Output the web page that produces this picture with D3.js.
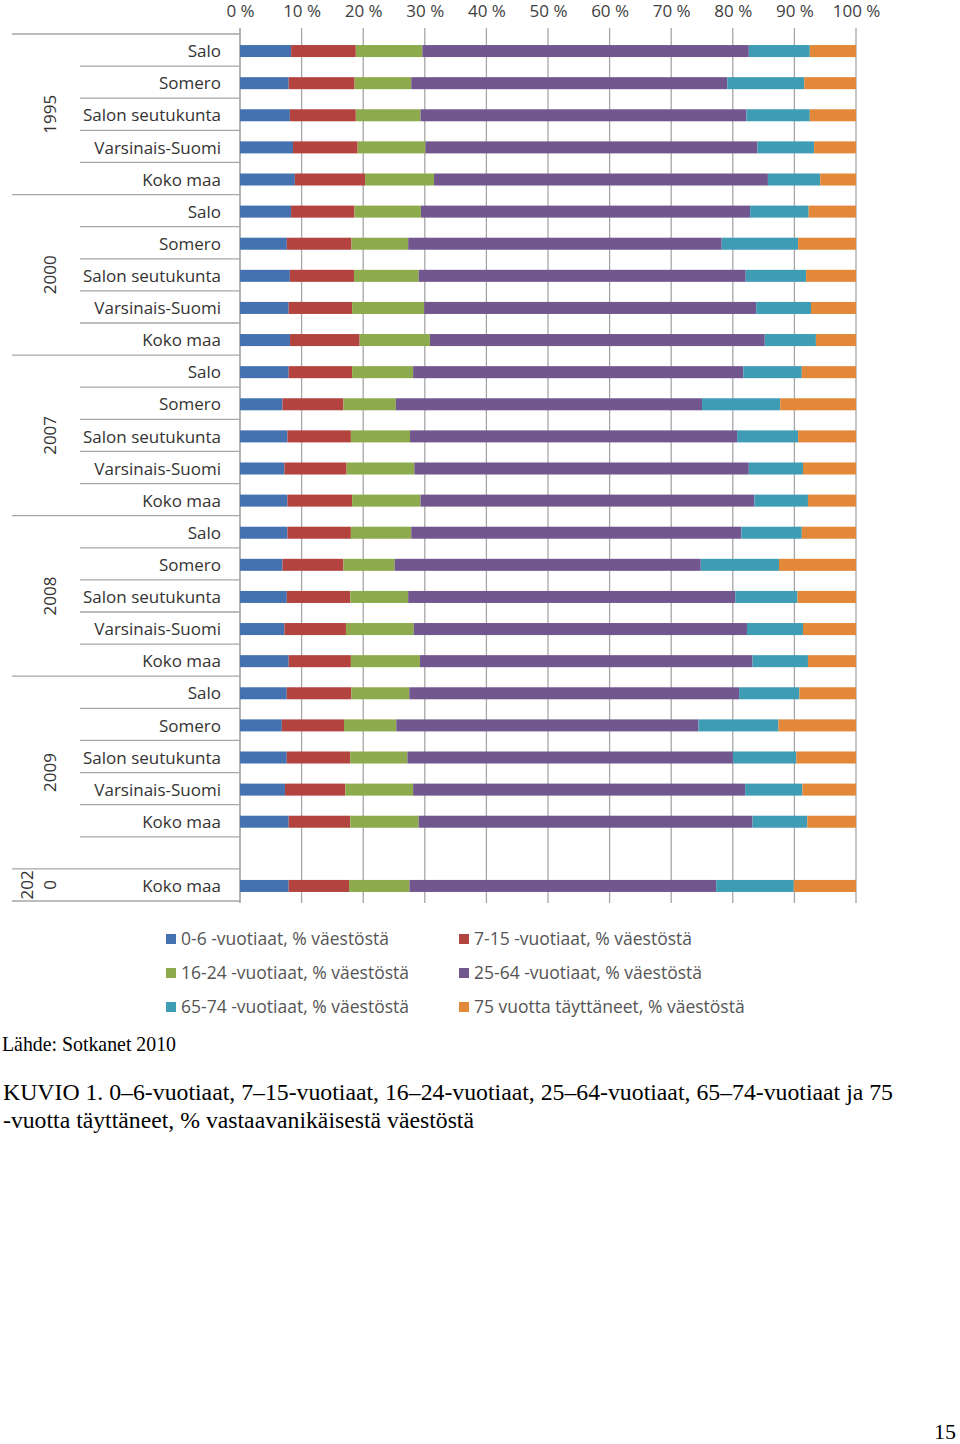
<!DOCTYPE html>
<html>
<head>
<meta charset="utf-8">
<script src="https://cdn.jsdelivr.net/npm/d3@7"></script>
<style>
  html, body { margin: 0; padding: 0; background: #fff; }
  svg { display: block; }
</style>
</head>
<body>
<svg id="chart" width="960" height="1444"></svg>
<script>
// ---------- DATA ----------
const xTicks = [0, 0.1, 0.2, 0.3, 0.4, 0.5, 0.6, 0.7, 0.8, 0.9, 1.0];
const groups = ["1995", "2000", "2007", "2008", "2009", "2020"];
// row labels (empty string = empty category slot)
const rowLabels = [
  "Salo", "Somero", "Salon seutukunta", "Varsinais-Suomi", "Koko maa",
  "Salo", "Somero", "Salon seutukunta", "Varsinais-Suomi", "Koko maa",
  "Salo", "Somero", "Salon seutukunta", "Varsinais-Suomi", "Koko maa",
  "Salo", "Somero", "Salon seutukunta", "Varsinais-Suomi", "Koko maa",
  "Salo", "Somero", "Salon seutukunta", "Varsinais-Suomi", "Koko maa", "",
  "Koko maa"
];
const rowGroup = [
  "1995","1995","1995","1995","1995",
  "2000","2000","2000","2000","2000",
  "2007","2007","2007","2007","2007",
  "2008","2008","2008","2008","2008",
  "2009","2009","2009","2009","2009","2009",
  "2020"
];
const seriesNames = [
  "0-6 -vuotiaat, % väestöstä",
  "7-15 -vuotiaat, % väestöstä",
  "16-24 -vuotiaat, % väestöstä",
  "25-64 -vuotiaat, % väestöstä",
  "65-74 -vuotiaat, % väestöstä",
  "75 vuotta täyttäneet, % väestöstä"
];
const s0_6   = [8.3,7.9,8.1,8.6,8.9, 8.3,7.6,8.1,7.9,8.1, 7.9,6.9,7.7,7.2,7.7, 7.7,6.9,7.6,7.2,7.9, 7.6,6.8,7.6,7.3,7.9, null, 7.9];
const s7_15  = [10.5,10.7,10.7,10.5,11.4, 10.3,10.5,10.4,10.3,11.3, 10.3,9.9,10.3,10.1,10.5, 10.3,9.9,10.3,10.0,10.1, 10.5,10.1,10.3,9.8,10.0, null, 9.8];
const s16_24 = [10.8,9.2,10.5,11.0,11.2, 10.8,9.2,10.5,11.7,11.4, 9.9,8.5,9.6,11.0,11.1, 9.8,8.3,9.4,11.0,11.2, 9.4,8.5,9.3,11.0,11.1, null, 9.8];
const s25_64 = [53.0,51.3,52.9,53.9,54.2, 53.5,50.9,53.1,53.9,54.3, 53.6,49.7,53.1,54.3,54.2, 53.6,49.7,53.1,54.1,54.0, 53.6,49.1,52.9,53.9,54.2, null, 49.8];
const s65_74 = [9.9,12.5,10.3,9.2,8.5, 9.5,12.4,9.8,8.9,8.3, 9.5,12.7,9.9,8.8,8.7, 9.8,12.7,10.1,9.1,9.0, 9.8,13.0,10.3,9.3,8.9, null, 12.6];
const s75    = [7.5,8.4,7.5,6.8,5.8, 7.7,9.4,8.1,7.3,6.5, 8.8,12.3,9.4,8.6,7.8, 8.8,12.5,9.5,8.6,7.8, 9.2,12.6,9.7,8.7,7.9, null, 10.1];
const seriesValues = [s0_6, s7_15, s16_24, s25_64, s65_74, s75];
const colors = ["#4472b0", "#b3433f", "#8dab4d", "#72578f", "#3f9cb5", "#e38739"];

// ---------- BUILD ----------
const svg = d3.select("#chart");
const chartFont = "'Open Sans', 'DejaVu Sans', sans-serif";
const serifFont = "'Liberation Serif', 'Times New Roman', serif";

const plotLeft = 240, plotRight = 856, plotTop = 34, plotBottom = 901;
const x = d3.scaleLinear().domain([0, 1]).range([plotLeft, plotRight]);
const rowIdx = d3.range(rowLabels.length);
const y = d3.scaleBand().domain(rowIdx).range([plotTop + 1, plotBottom + 1])
  .paddingInner(0.626).paddingOuter(0.313);
const step = y.step();

const table = rowIdx.map(i => {
  const o = { i };
  seriesNames.forEach((s, k) => { o[s] = seriesValues[k][i] == null ? 0 : seriesValues[k][i]; });
  return o;
});
const stacked = d3.stack().keys(seriesNames).offset(d3.stackOffsetExpand)(table);

// gridlines (and tick marks above)
svg.append("g").selectAll("line").data(xTicks).join("line")
  .attr("x1", d => x(d)).attr("x2", d => x(d))
  .attr("y1", plotTop - 6).attr("y2", plotBottom + 2)
  .attr("stroke", d => d === 0 ? "#8c8c8c" : "#a6a6a6").attr("stroke-width", 1.3);

// top axis labels
const xAxis = d3.axisTop(x).tickValues(xTicks).tickSize(0).tickPadding(0)
  .tickFormat(d => Math.round(d * 100) + " %");
const gx = svg.append("g").attr("transform", `translate(0,${plotTop - 17})`).call(xAxis);
gx.select(".domain").remove();
gx.selectAll("text").attr("font-family", chartFont).attr("font-size", 17)
  .attr("fill", "#404040").attr("dy", 0);

// bars
svg.append("g").selectAll("g").data(stacked).join("g")
  .attr("fill", (d, k) => colors[k])
  .selectAll("rect").data(d => d.filter(p => p.data && seriesValues[0][p.data.i] != null)).join("rect")
  .attr("x", p => x(p[0]))
  .attr("width", p => Math.max(0, x(p[1]) - x(p[0])))
  .attr("y", p => y(p.data.i))
  .attr("height", y.bandwidth());

// category separator lines
const catG = svg.append("g").attr("stroke", "#a6a6a6").attr("stroke-width", 1.3);
const boundary = i => plotTop + i * ((plotBottom - plotTop) / rowLabels.length);
rowIdx.forEach(i => {
  const top = boundary(i);
  const isGroupStart = i === 0 || rowGroup[i] !== rowGroup[i - 1];
  catG.append("line").attr("x1", isGroupStart ? 12 : 80).attr("x2", plotLeft)
    .attr("y1", top).attr("y2", top);
});
catG.append("line").attr("x1", 12).attr("x2", plotLeft)
  .attr("y1", plotBottom).attr("y2", plotBottom);

// row labels
svg.append("g").selectAll("text").data(rowIdx.filter(i => rowLabels[i] !== "")).join("text")
  .attr("x", 221).attr("y", i => y(i) + y.bandwidth() / 2)
  .attr("dy", "0.36em").attr("text-anchor", "end")
  .attr("font-family", chartFont).attr("font-size", 17).attr("fill", "#333")
  .text(i => rowLabels[i]);

// group (year) labels
groups.forEach(g => {
  const idx = rowIdx.filter(i => rowGroup[i] === g);
  const y0 = boundary(idx[0]);
  const y1 = boundary(idx[idx.length - 1] + 1);
  const cy = (y0 + y1) / 2;
  const t = svg.append("text")
    .attr("transform", `translate(50,${cy}) rotate(-90)`)
    .attr("text-anchor", "middle")
    .attr("font-family", chartFont).attr("font-size", 17).attr("fill", "#333");
  if (idx.length > 1) {
    t.attr("dy", "0.36em").text(g);
  } else {
    // wrapped label in narrow slot
    t.append("tspan").attr("x", 0).attr("y", -23).attr("dy", "0.36em").text(g.slice(0, 3));
    t.append("tspan").attr("x", 0).attr("y", 0).attr("dy", "0.36em").text(g.slice(3));
  }
});

// legend
const legendPos = [[166, 939], [459, 939], [166, 973], [459, 973], [166, 1007], [459, 1007]];
const lg = svg.append("g").selectAll("g").data(seriesNames).join("g")
  .attr("transform", (d, k) => `translate(${legendPos[k][0]},${legendPos[k][1]})`);
lg.append("rect").attr("x", 0).attr("y", -5).attr("width", 10).attr("height", 10)
  .attr("fill", (d, k) => colors[k]);
lg.append("text").attr("x", 15).attr("y", 0).attr("dy", "0.36em")
  .attr("font-family", chartFont).attr("font-size", 17.5).attr("fill", "#555")
  .text(d => d);

// source & caption
svg.append("text").attr("x", 2).attr("y", 1051)
  .attr("font-family", serifFont).attr("font-size", 21).attr("fill", "#000")
  .attr("textLength", 174).attr("lengthAdjust", "spacingAndGlyphs")
  .text("Lähde: Sotkanet 2010");
svg.append("text").attr("x", 3).attr("y", 1100)
  .attr("font-family", serifFont).attr("font-size", 23).attr("fill", "#000")
  .attr("textLength", 890).attr("lengthAdjust", "spacingAndGlyphs")
  .text("KUVIO 1. 0–6-vuotiaat, 7–15-vuotiaat, 16–24-vuotiaat, 25–64-vuotiaat, 65–74-vuotiaat ja 75");
svg.append("text").attr("x", 3).attr("y", 1128)
  .attr("font-family", serifFont).attr("font-size", 23).attr("fill", "#000")
  .attr("textLength", 471).attr("lengthAdjust", "spacingAndGlyphs")
  .text("-vuotta täyttäneet, % vastaavanikäisestä väestöstä");
svg.append("text").attr("x", 956).attr("y", 1439).attr("text-anchor", "end")
  .attr("font-family", serifFont).attr("font-size", 22).attr("fill", "#000")
  .text("15");
</script>
</body>
</html>
